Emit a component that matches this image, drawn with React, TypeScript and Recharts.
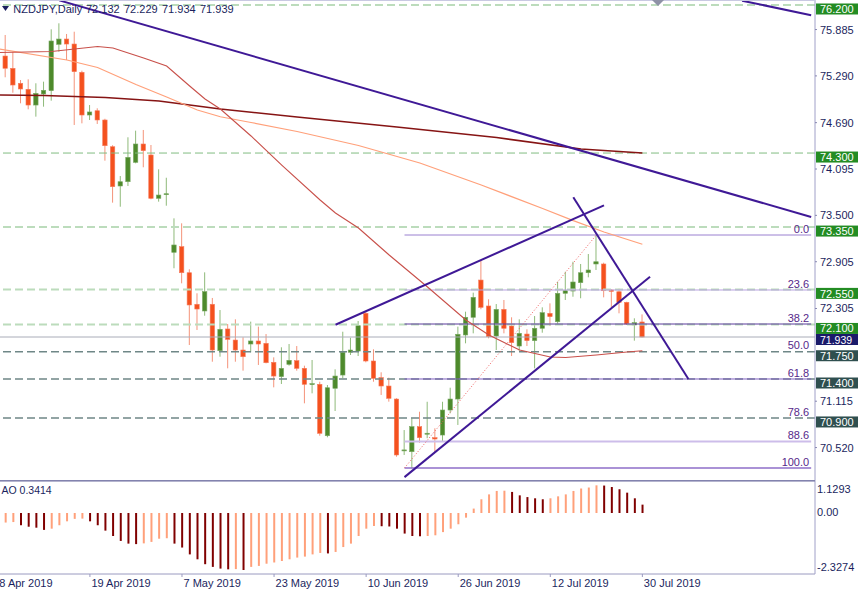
import React from "react";
import { ComposedChart, Bar, Line, XAxis, YAxis, ReferenceLine, Cell } from "recharts";

const FONT = '"Liberation Sans", Arial, sans-serif';
const INK = "#1b1f5e";

// daily bars, first one is 8 Apr 2019 (slot -1, mostly off the left edge)
const opens = [
  75.195,
  75.545, 75.387, 75.195, 75.118, 74.916, 75.058, 75.1, 75.695, 75.763, 75.699,
  75.336, 74.788, 74.843, 74.724, 74.381, 73.877, 73.932, 74.181, 74.416, 74.275,
  73.719, 73.774, 73.026, 73.098, 72.764, 72.359, 72.273, 72.359, 71.763, 72.042,
  71.9, 71.772, 71.849, 71.888, 71.858, 71.614, 71.43, 71.588, 71.635, 71.537,
  71.336, 71.332, 70.672, 71.281, 71.451, 71.743, 71.759, 72.243, 71.631, 71.417,
  71.31, 71.143, 70.48, 70.467, 70.788, 70.7, 70.647, 70.681, 71.002, 71.143,
  71.965, 72.192, 72.67, 72.337, 71.952, 72.294, 72.08, 71.823, 71.977, 71.892,
  72.051, 72.243, 72.135, 72.5, 72.529, 72.636, 72.764, 72.876, 72.876, 72.542,
  72.52, 72.384, 72.093, 72.132,
];
const highs = [
  75.6,
  75.815, 75.6, 75.237, 75.246, 75.195, 75.216, 75.888, 75.965, 75.828, 75.857,
  75.357, 74.916, 74.874, 74.74, 74.4, 74.005, 74.502, 74.587, 74.596, 74.403,
  74.091, 73.983, 73.462, 73.398, 72.808, 72.5, 72.769, 72.44, 72.285, 72.106,
  72.166, 71.935, 72.136, 72.072, 71.977, 71.678, 71.807, 71.849, 71.823, 71.571,
  71.644, 71.365, 71.323, 71.524, 72.007, 71.93, 72.144, 72.264, 71.781, 71.486,
  71.417, 71.152, 70.745, 70.896, 70.98, 71.108, 70.767, 71.108, 71.288, 72.072,
  72.264, 72.508, 72.927, 72.423, 72.362, 72.414, 72.192, 72.166, 72.038, 72.208,
  72.32, 72.371, 72.649, 72.777, 72.905, 72.876, 73.004, 73.24, 72.893, 72.551,
  72.559, 72.392, 72.179, 72.229,
];
const lows = [
  75.16,
  75.272, 75.074, 74.938, 74.861, 74.767, 74.895, 74.972, 75.6, 75.494, 74.66,
  74.681, 74.724, 74.673, 74.202, 73.663, 73.611, 73.877, 74.168, 74.117, 73.706,
  73.676, 73.624, 72.821, 72.628, 71.836, 72.029, 72.212, 71.622, 71.686, 71.537,
  71.622, 71.507, 71.742, 71.58, 71.601, 71.293, 71.336, 71.571, 71.507, 71.088,
  71.216, 70.672, 70.652, 70.989, 71.409, 71.708, 71.695, 71.614, 71.365, 71.195,
  71.109, 70.403, 70.425, 70.254, 70.582, 70.64, 70.467, 70.595, 70.96, 70.81,
  71.858, 71.986, 72.295, 71.922, 71.772, 71.986, 71.695, 71.763, 71.823, 71.537,
  71.994, 72.08, 72.106, 72.414, 72.456, 72.436, 72.705, 72.799, 72.448, 72.32,
  72.243, 72.093, 71.892, 71.934,
];
const closes = [
  75.558,
  75.388, 75.173, 75.122, 74.916, 75.066, 75.105, 75.738, 75.763, 75.699, 75.344,
  74.788, 74.827, 74.724, 74.394, 73.868, 73.932, 74.245, 74.416, 74.33, 73.719,
  73.761, 73.778, 73.12, 72.764, 72.35, 72.298, 72.521, 71.772, 72.038, 71.909,
  71.772, 71.686, 71.888, 71.849, 71.609, 71.438, 71.537, 71.64, 71.537, 71.332,
  71.34, 70.703, 71.288, 71.438, 71.743, 71.772, 72.084, 71.631, 71.409, 71.31,
  71.152, 70.425, 70.49, 70.788, 70.647, 70.704, 70.63, 71.002, 71.143, 71.974,
  72.192, 72.448, 72.32, 71.943, 72.294, 72.051, 71.866, 71.986, 71.892, 72.051,
  72.251, 72.2, 72.5, 72.533, 72.645, 72.764, 72.799, 72.905, 72.533, 72.525,
  72.384, 72.106, 72.123, 71.939,
];

// Awesome Oscillator, one value per bar
const aoValues = [
  -0.42,
  -0.39, -0.37, -0.5, -0.56, -0.6, -0.69, -0.64, -0.5, -0.34, -0.24,
  -0.23, -0.34, -0.5, -0.72, -0.94, -1.14, -1.25, -1.27, -1.24, -1.18,
  -1.05, -1.03, -1.25, -1.41, -1.69, -1.89, -2.09, -2.2, -2.27, -2.3,
  -2.29, -2.3274, -2.2, -2.16, -2.07, -2.02, -1.96, -1.89, -1.82, -1.78,
  -1.69, -1.63, -1.65, -1.59, -1.39, -1.25, -0.94, -0.64, -0.53, -0.54,
  -0.55, -0.64, -0.84, -0.94, -0.95, -0.94, -0.91, -0.78, -0.64, -0.46,
  -0.19, 0.18, 0.56, 0.76, 0.9, 0.91, 0.86, 0.72, 0.65, 0.6,
  0.56, 0.6, 0.68, 0.76, 0.9, 1.0, 1.04, 1.1293, 1.12, 1.06,
  0.97, 0.83, 0.6, 0.3414,
];

// moving averages, read at a handful of bars
const maroonAt = [-1, 5, 13, 20, 25, 28, 38, 51, 64, 75, 83];
const maroonMa = [75.045, 75.038, 75.013, 74.968, 74.904, 74.865, 74.762, 74.634, 74.499, 74.352, 74.3];
const redAt = [-1, 6, 12, 14, 18, 21, 24, 26, 28, 32, 36, 41, 43, 46, 50, 55, 60, 63, 67, 71, 73, 77, 81, 83];
const redMa = [
  75.59, 75.603, 75.667, 75.648, 75.52, 75.417, 75.16, 74.993, 74.865, 74.519, 74.146, 73.697,
  73.53, 73.338, 72.991, 72.581, 72.157, 71.965, 71.772, 71.682, 71.676, 71.708, 71.747, 71.763,
];
const orangeAt = [-1, 8, 12, 17, 21, 25, 28, 32, 38, 46, 54, 62, 70, 74, 78, 83];
const orangeMa = [
  75.639, 75.494, 75.398, 75.179, 75.019, 74.852, 74.766, 74.692, 74.576, 74.397, 74.172, 73.89,
  73.588, 73.432, 73.287, 73.129,
];

const dateTicks = [-1, 11, 23, 35, 47, 59, 71, 83];
const dateLabels = [
  "8 Apr 2019", "19 Apr 2019", "7 May 2019", "23 May 2019",
  "10 Jun 2019", "26 Jun 2019", "12 Jul 2019", "30 Jul 2019",
];

const symbolName = "NZDJPY,Daily";
const lastOhlc = ["72.132", "72.229", "71.934", "71.939"];

const plainPrices = [75.885, 75.29, 74.69, 74.095, 73.5, 72.905, 72.305, 71.115, 70.52];
const greenLevels = [76.2, 74.3, 73.35, 72.55, 72.1];
const slateLevels = [71.75, 71.4, 70.9];
const bidPrice = 71.939;
const aoTicks = [1.1293, 0, -2.3274];

const fibHigh = 73.248;
const fibLow = 70.258;
const fibLevels = [0, 23.6, 38.2, 50, 61.8, 78.6, 88.6, 100];
const fibFrom = 52;
const fibTo = 105;

// trend lines: [bar, price, bar, price]
const trendLines = [
  [7, 76.259, 105, 73.48],
  [96, 76.255, 105, 76.069],
  [43, 72.096, 78, 73.628],
  [52, 70.141, 84, 72.712],
  [74, 73.732, 89, 71.4],
];
const fibTrend = [52, 70.258, 77, 73.248];

const SLOTS = 107;
const FIRST = -1;
const AX = 821; // right edge of the plot, chart coords

const pick = (at: number[], vals: number[], i: number) => {
  const k = at.indexOf(i);
  return k >= 0 ? vals[k] : null;
};

const rows = Array.from({ length: SLOTS }, (_, k) => {
  const i = k + FIRST;
  const has = k < opens.length;
  return {
    i,
    o: has ? opens[k] : null,
    h: has ? highs[k] : null,
    l: has ? lows[k] : null,
    c: has ? closes[k] : null,
    range: has ? [lows[k], highs[k]] : null,
    ao: has ? aoValues[k] : null,
    aoUp: has ? k === 0 || aoValues[k] >= aoValues[k - 1] : false,
    maroon: pick(maroonAt, maroonMa, i),
    red: pick(redAt, redMa, i),
    orange: pick(orangeAt, orangeMa, i),
  };
});

function Candle(props: any) {
  const { x, y, width, height, payload } = props;
  if (!payload || payload.o == null || !isFinite(y) || !isFinite(height)) return <g />;
  const { o, h, l, c } = payload;
  const span = h - l || 1e-6;
  const toY = (v: number) => y + ((h - v) / span) * height;
  const cx = x + width / 2;
  const up = c >= o;
  const top = toY(Math.max(o, c));
  const bot = toY(Math.min(o, c));
  return (
    <g>
      <line x1={cx} x2={cx} y1={y} y2={y + height} stroke={up ? "#8fba7a" : "#f4937a"} strokeWidth={1} />
      <rect
        x={cx - 2.2}
        y={top}
        width={4.4}
        height={Math.max(bot - top, 1)}
        fill={up ? "#4e8a2c" : "#f4511e"}
        stroke={up ? "#78a862" : "#f77a5c"}
        strokeWidth={0.6}
      />
    </g>
  );
}

function PriceTick(props: any) {
  const { y, payload } = props;
  const v = payload.value;
  const txt = v.toFixed(3);
  if (greenLevels.includes(v) || slateLevels.includes(v)) {
    return (
      <g>
        <rect x={AX + 1} y={y - 1.5} width={42} height={11} fill={greenLevels.includes(v) ? "#238c23" : "#2f4f4f"} />
        <text x={AX + 5} y={v === 72.1 ? y + 7.6 : y + 8.3} fontSize={11} fontFamily={FONT} fill="#fff">{txt}</text>
      </g>
    );
  }
  if (v === bidPrice) {
    return (
      <g>
        <rect x={AX + 1} y={y - 3} width={42} height={11} fill="#1a1a6a" />
        <text x={AX + 5} y={y + 7} fontSize={10.5} fontFamily={FONT} fill="#fff">{txt}</text>
      </g>
    );
  }
  return (
    <g>
      <line x1={AX} x2={AX + 2} y1={y} y2={y} stroke="#8888b0" />
      <text x={AX + 5} y={y + 4} fontSize={11} fontFamily={FONT} fill={INK}>{txt}</text>
    </g>
  );
}

function AoTick(props: any) {
  const { y, payload } = props;
  const v = payload.value;
  const dy = v > 0 ? 7.5 : v < 0 ? 1 : 3;
  return (
    <text x={AX + 2} y={y + dy} fontSize={11} fontFamily={FONT} fill={INK}>
      {v === 0 ? "0.00" : v.toFixed(4)}
    </text>
  );
}

function DateTick(props: any) {
  const { x, payload } = props;
  const k = dateTicks.indexOf(payload.value);
  return (
    <g>
      <line x1={x} x2={x} y1={93} y2={96} stroke="#9a9ac0" />
      <text x={x + 1.5} y={106} fontSize={11} fontFamily={FONT} fill={INK}>{dateLabels[k]}</text>
    </g>
  );
}

const fibLook: Record<string, { stroke: string; width: number }> = {
  "0.0": { stroke: "#9a80d0", width: 1 },
  "23.6": { stroke: "#b7a0e0", width: 1 },
  "38.2": { stroke: "#5a3a9c", width: 1 },
  "50.0": { stroke: "none", width: 0 },
  "61.8": { stroke: "#7f5fc0", width: 1 },
  "78.6": { stroke: "none", width: 0 },
  "88.6": { stroke: "#cdbdea", width: 2 },
  "100.0": { stroke: "#8e6ec8", width: 1.5 },
};

export default function App() {
  const flat = { top: 0, right: 0, bottom: 0, left: 0 };
  return (
    <div style={{ position: "fixed", left: 0, top: 0, width: 860, height: 591, overflow: "hidden", background: "#fff" }}>
      <div style={{ position: "absolute", left: -6, top: 0 }}>
        <ComposedChart width={866} height={481} data={rows} margin={flat}>
          <XAxis dataKey="i" hide />
          <YAxis
            orientation="right"
            width={45}
            type="number"
            domain={[70.091, 76.264]}
            allowDataOverflow
            ticks={[...plainPrices, ...greenLevels, ...slateLevels, bidPrice]}
            interval={0}
            tick={PriceTick}
            tickLine={false}
            axisLine={{ stroke: "#a0a0c8" }}
          />
          {[76.2, 73.35, 72.55, 72.1].map((v) => (
            <ReferenceLine key={v} y={v} stroke="#bcdcbc" strokeWidth={2} strokeDasharray="8 4" />
          ))}
          <ReferenceLine y={74.3} stroke="#82bc82" strokeWidth={1} strokeDasharray="8 4" />
          {slateLevels.map((v) => (
            <ReferenceLine key={v} y={v} stroke="#6f8787" strokeWidth={1.5} strokeDasharray="8 4" />
          ))}
          <ReferenceLine y={bidPrice} stroke="#a9acb8" strokeWidth={1} />
          {fibLevels.map((lv) => {
            const name = lv.toFixed(1);
            const look = fibLook[name];
            const p = fibHigh - (lv / 100) * (fibHigh - fibLow);
            return (
              <ReferenceLine
                key={name}
                segment={[{ x: fibFrom, y: p }, { x: fibTo, y: p }]}
                stroke={look.stroke}
                strokeWidth={look.width}
                ifOverflow="visible"
                label={{ value: name, position: "insideBottomRight", offset: 2, fill: "#56288a", fontSize: 11, fontFamily: FONT }}
              />
            );
          })}
          <Line dataKey="maroon" stroke="#861414" strokeWidth={1.6} dot={false} activeDot={false} connectNulls isAnimationActive={false} />
          <Line dataKey="orange" stroke="#ffa07a" strokeWidth={1.2} dot={false} activeDot={false} connectNulls isAnimationActive={false} />
          <Line dataKey="red" stroke="#c8504a" strokeWidth={1.1} dot={false} activeDot={false} connectNulls isAnimationActive={false} />
          <Bar dataKey="range" barSize={5} shape={<Candle />} isAnimationActive={false} />
          <ReferenceLine
            segment={[{ x: fibTrend[0], y: fibTrend[1] }, { x: fibTrend[2], y: fibTrend[3] }]}
            stroke="#f06060"
            strokeWidth={1}
            strokeDasharray="1 2"
            ifOverflow="visible"
          />
          {trendLines.map((t, k) => (
            <ReferenceLine
              key={k}
              segment={[{ x: t[0], y: t[1] }, { x: t[2], y: t[3] }]}
              stroke="#3f1996"
              strokeWidth={2}
              ifOverflow="visible"
            />
          ))}
        </ComposedChart>
      </div>
      <div style={{ position: "absolute", left: -6, top: 481 }}>
        <ComposedChart width={866} height={110} data={rows} margin={flat}>
          <XAxis
            dataKey="i"
            ticks={dateTicks}
            interval={0}
            tick={DateTick}
            tickLine={false}
            axisLine={{ stroke: "#9a9ac0" }}
            height={17}
          />
          <YAxis
            orientation="right"
            width={45}
            type="number"
            domain={[-2.49, 1.306]}
            allowDataOverflow
            ticks={aoTicks}
            interval={0}
            tick={AoTick}
            tickLine={false}
            axisLine={{ stroke: "#a0a0c8" }}
          />
          <Bar dataKey="ao" barSize={2} isAnimationActive={false}>
            {rows.map((r) => (
              <Cell key={r.i} fill={r.aoUp ? "#ffa07a" : "#800000"} />
            ))}
          </Bar>
        </ComposedChart>
      </div>
      <svg width={860} height={591} style={{ position: "absolute", left: 0, top: 0, pointerEvents: "none" }}>
        <line x1={0} x2={815} y1={0.5} y2={0.5} stroke="#c9c9e2" />
        <rect x={0} y={480} width={815} height={1.6} fill="#8383ae" />
        <polygon points="2,6 9,6 5.5,11" fill={INK} />
        <g fontSize={11} fontFamily={FONT} fill={INK}>
          <text x={13.3} y={12.7}>{symbolName}</text>
          {lastOhlc.map((s, k) => (
            <text key={k} x={86 + k * 38} y={12.7}>{s}</text>
          ))}
        </g>
        <polygon points="652,0 664,0 658,6" fill="#8e92a6" />
        <text x={1.5} y={494} fontSize={10.5} fontFamily={FONT} fill={INK}>AO 0.3414</text>
      </svg>
    </div>
  );
}
